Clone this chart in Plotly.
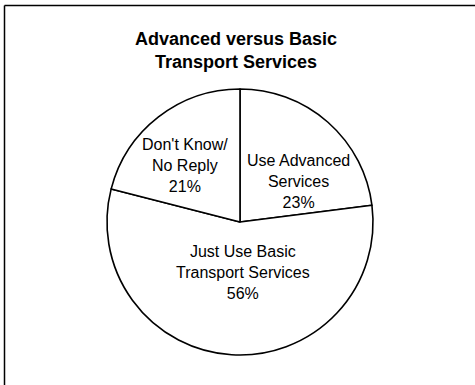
import plotly.graph_objects as go

# slice order follows the chart: clockwise from 12 o'clock
categories = ["Use Advanced Services", "Just Use Basic Transport Services", "Don't Know/No Reply"]
shares = [23, 56, 21]
slice_text = [
    "Use Advanced<br>Services<br>23%",
    "Just Use Basic<br>Transport Services<br>56%",
    "Don't Know/<br>No Reply<br>21%",
]
title_text = "Advanced versus Basic<br>Transport Services"

W, H = 475, 385
FONT = "Liberation Sans, Arial, Helvetica, sans-serif"

# label anchor points in pixels (x, y from top), one per slice
label_px = [(298, 181), (243, 272), (185, 166)]

fig = go.Figure(
    go.Pie(
        labels=categories,
        values=shares,
        textinfo="none",
        sort=False,
        direction="clockwise",
        rotation=0,
        marker=dict(colors=["white"] * 3, line=dict(color="black", width=1.6)),
        hoverinfo="skip",
        showlegend=False,
        domain=dict(x=[107 / W, 373 / W], y=[1 - 355 / H, 1 - 89 / H]),
    )
)

for txt, (px, py) in zip(slice_text, label_px):
    fig.add_annotation(
        text=txt,
        x=px / W,
        y=1 - py / H,
        xref="paper",
        yref="paper",
        xanchor="center",
        yanchor="middle",
        showarrow=False,
        font=dict(family=FONT, size=16, color="black"),
    )

fig.update_layout(
    width=W,
    height=H,
    margin=dict(l=0, r=0, t=0, b=0),
    paper_bgcolor="white",
    plot_bgcolor="white",
    title=dict(
        text=f"<b>{title_text}</b>",
        font=dict(family=FONT, size=18, color="black"),
        x=236 / W,
        xanchor="center",
        y=1 - 45 / H,
        yanchor="middle",
    ),
    shapes=[
        # frame: only the top and left edges show in the scan
        dict(type="line", xref="paper", yref="paper",
             x0=4.5 / W, x1=1, y0=1 - 5.5 / H, y1=1 - 5.5 / H,
             line=dict(color="black", width=1.5)),
        dict(type="line", xref="paper", yref="paper",
             x0=4.5 / W, x1=4.5 / W, y0=0, y1=1 - 5.5 / H,
             line=dict(color="black", width=1.5)),
    ],
)

# drop the default page margin so the figure sits at the window's corner
fig.write_html(
    "out.html",
    config={"displayModeBar": False},
    post_script="document.body.style.margin='0';",
)
